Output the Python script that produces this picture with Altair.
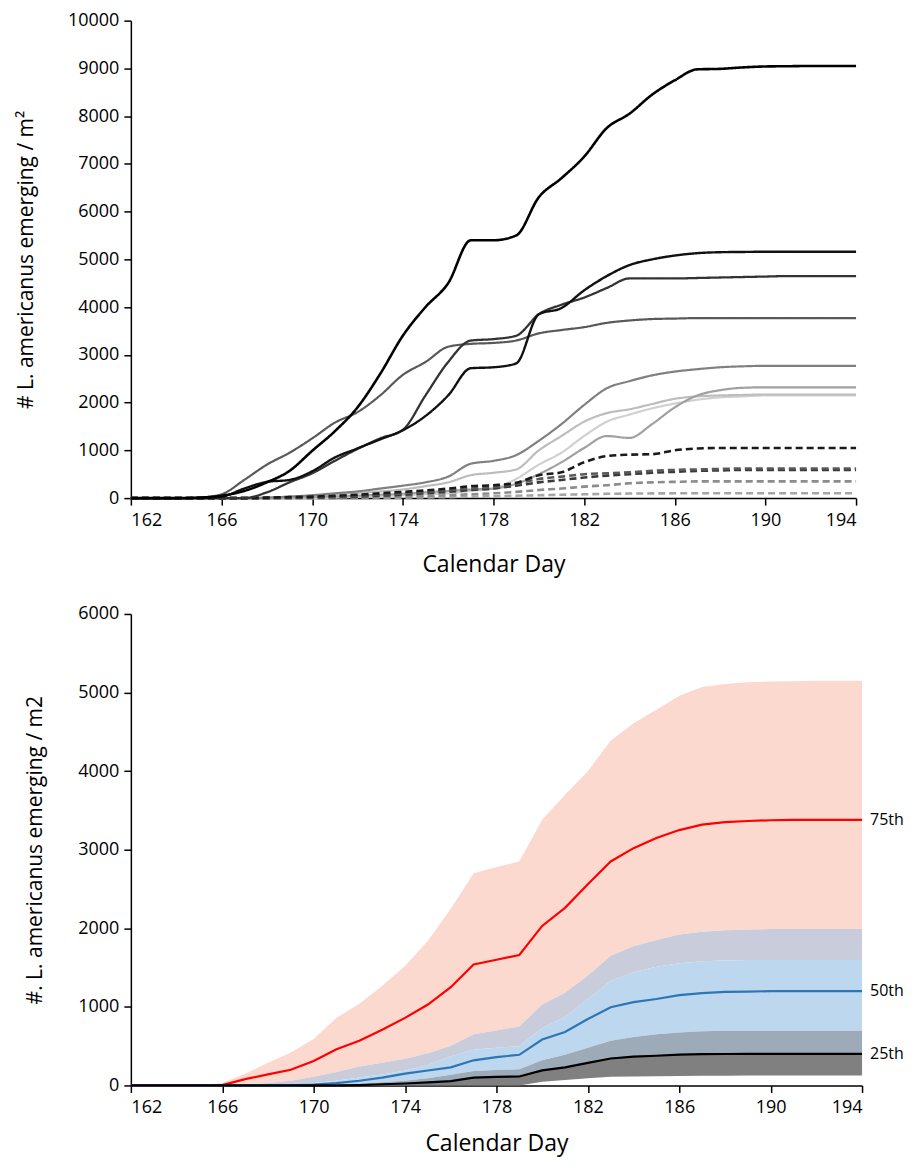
import altair as alt
import pandas as pd

# ---------------- data: top panel (individual scenarios) ----------------
days = list(range(162, 195))

top_a = [0, 0, 0, 10, 50, 150, 330, 570, 990, 1400, 1900, 2600, 3400, 4000, 4500, 5400, 5400, 5500,
         6300, 6700, 7150, 7750, 8050, 8450, 8750, 8980, 8990, 9020, 9040, 9045, 9050, 9050, 9050]
top_b = [0, 0, 0, 0, 30, 200, 340, 380, 560, 850, 1040, 1230, 1420, 1720, 2150, 2720, 2740, 2820,
         3850, 3980, 4350, 4650, 4880, 5000, 5080, 5130, 5150, 5155, 5160, 5160, 5160, 5160, 5160]
top_c = [0, 0, 0, 0, 0, 0, 120, 330, 520, 780, 1030, 1250, 1430, 2150, 2850, 3300, 3330, 3400,
         3850, 4050, 4200, 4400, 4600, 4600, 4600, 4610, 4620, 4630, 4640, 4650, 4650, 4650, 4650]
top_d = [0, 0, 0, 10, 80, 380, 700, 950, 1250, 1580, 1800, 2150, 2580, 2850, 3170, 3230, 3250, 3300,
         3450, 3520, 3580, 3670, 3720, 3750, 3760, 3770, 3770, 3770, 3770, 3770, 3770, 3770, 3770]
top_e = [0, 0, 0, 0, 0, 0, 10, 30, 60, 100, 140, 200, 260, 330, 450, 720, 780, 900,
         1200, 1550, 1950, 2300, 2450, 2570, 2650, 2700, 2740, 2760, 2770, 2770, 2770, 2770, 2770]
top_f = [0, 0, 0, 0, 0, 0, 0, 10, 20, 35, 50, 70, 90, 120, 150, 180, 200, 300,
         500, 750, 1050, 1300, 1260, 1550, 1900, 2150, 2260, 2310, 2320, 2320, 2320, 2320, 2320]
top_g = [0, 0, 0, 0, 0, 0, 10, 30, 50, 80, 110, 140, 180, 250, 330, 480, 530, 600,
         1000, 1300, 1600, 1780, 1860, 1970, 2080, 2130, 2150, 2160, 2170, 2170, 2170, 2170, 2170]
top_h = [0, 0, 0, 0, 0, 0, 0, 0, 0, 10, 30, 45, 60, 80, 100, 150, 200, 400,
         700, 950, 1300, 1600, 1750, 1880, 1980, 2060, 2110, 2130, 2150, 2150, 2150, 2150, 2150]
dash_a = [0, 0, 0, 0, 0, 0, 10, 20, 30, 50, 70, 100, 130, 160, 200, 250, 270, 320,
          480, 540, 750, 880, 910, 920, 1000, 1040, 1050, 1050, 1050, 1050, 1050, 1050, 1050]
dash_b = [0, 0, 0, 0, 0, 0, 5, 10, 20, 35, 50, 75, 100, 130, 170, 200, 230, 300,
          400, 450, 500, 520, 540, 570, 590, 600, 610, 620, 620, 620, 620, 620, 620]
dash_c = [0, 0, 0, 0, 0, 0, 0, 5, 10, 20, 30, 50, 70, 100, 130, 170, 200, 260,
          330, 380, 430, 470, 500, 530, 550, 570, 580, 590, 590, 590, 590, 590, 590]
dash_d = [0, 0, 0, 0, 0, 0, 0, 0, 0, 5, 10, 20, 30, 45, 60, 80, 100, 130,
          170, 200, 240, 270, 310, 330, 340, 350, 350, 350, 350, 350, 350, 350, 350]
dash_e = [0, 0, 0, 0, 0, 0, 0, 0, 0, 0, 0, 5, 10, 15, 20, 30, 40, 50,
          60, 70, 80, 90, 95, 98, 100, 100, 100, 100, 100, 100, 100, 100, 100]

top_series = [
    # name, values, colour, dashed, width
    ("h", top_h, "#d0d0d0", False, 2.2),
    ("g", top_g, "#bdbdbd", False, 2.2),
    ("f", top_f, "#a0a0a0", False, 2.2),
    ("e", top_e, "#808080", False, 2.2),
    ("dash_e", dash_e, "#a6a6a6", True, 2.6),
    ("dash_d", dash_d, "#8c8c8c", True, 2.6),
    ("dash_c", dash_c, "#3a3a3a", True, 2.6),
    ("dash_b", dash_b, "#595959", True, 2.6),
    ("dash_a", dash_a, "#1a1a1a", True, 2.6),
    ("d", top_d, "#595959", False, 2.2),
    ("c", top_c, "#333333", False, 2.3),
    ("b", top_b, "#111111", False, 2.4),
    ("a", top_a, "#000000", False, 2.6),
]

# ---------------- data: bottom panel (percentiles) ----------------
pink_top = [0, 0, 0, 0, 30, 150, 290, 420, 590, 860, 1040, 1270, 1520, 1840, 2250, 2700, 2780, 2850,
            3380, 3700, 4000, 4390, 4610, 4780, 4960, 5070, 5110, 5130, 5140, 5145, 5150, 5150, 5150]
lav_top = [0, 0, 0, 0, 0, 10, 30, 60, 110, 170, 240, 290, 340, 410, 505, 650, 700, 750,
           1030, 1180, 1400, 1650, 1770, 1850, 1920, 1955, 1975, 1985, 1990, 1990, 1990, 1990, 1990]
lb_top = [0, 0, 0, 0, 0, 0, 0, 10, 30, 60, 100, 140, 190, 260, 370, 455, 480, 500,
          730, 870, 1100, 1330, 1440, 1510, 1555, 1580, 1590, 1595, 1595, 1595, 1595, 1595, 1595]
bg_top = [0, 0, 0, 0, 0, 0, 0, 0, 0, 10, 20, 40, 60, 90, 137, 183, 195, 206,
          320, 390, 480, 570, 615, 650, 675, 690, 695, 695, 695, 695, 695, 695, 695]
gray_low = [0, 0, 0, 0, 0, 0, 0, 0, 0, 0, 0, 0, 0, 0, 0, 0, 0, 0,
            46, 70, 91, 110, 114, 118, 120, 122, 124, 125, 125, 125, 125, 125, 125]
p75 = [0, 0, 0, 0, 5, 80, 140, 200, 310, 460, 570, 710, 860, 1030, 1250, 1540, 1600, 1660,
       2030, 2260, 2560, 2850, 3020, 3150, 3250, 3320, 3350, 3365, 3375, 3380, 3380, 3380, 3380]
p50 = [0, 0, 0, 0, 0, 0, 0, 0, 10, 30, 60, 100, 150, 190, 230, 320, 360, 390,
       585, 680, 845, 995, 1060, 1100, 1150, 1175, 1190, 1195, 1200, 1200, 1200, 1200, 1200]
p25 = [0, 0, 0, 0, 0, 0, 0, 0, 0, 0, 5, 15, 25, 40, 55, 100, 108, 114,
       192, 229, 288, 343, 366, 378, 393, 398, 400, 402, 402, 402, 402, 402, 402]
pct_labels = ["75th", "50th", "25th"]

FONT = "Open Sans"
x_ticks = list(range(162, 195, 4))

# ---------------- top chart ----------------
top_layers = []
for name, vals, col, dashed, w in top_series:
    df = pd.DataFrame({"day": days, "v": vals})
    mk = alt.Chart(df).mark_line(
        color=col, strokeWidth=w, interpolate="monotone",
        strokeDash=[7, 4] if dashed else [1, 0],
    ).encode(
        x=alt.X("day:Q", scale=alt.Scale(domain=[162, 194], nice=False),
                axis=alt.Axis(values=x_ticks, title="Calendar Day", format="d",
                              titlePadding=24, titleFontSize=23)),
        y=alt.Y("v:Q", scale=alt.Scale(domain=[0, 10000], nice=False),
                axis=alt.Axis(values=list(range(0, 10001, 1000)), format="d",
                              title="# L. americanus emerging / m²", titlePadding=31)),
    )
    top_layers.append(mk)

top = alt.layer(*top_layers).properties(width=726, height=478)

# ---------------- bottom chart ----------------
bdf = pd.DataFrame({
    "day": days, "pink_top": pink_top, "lav_top": lav_top, "lb_top": lb_top,
    "bg_top": bg_top, "gray_low": gray_low, "p75": p75, "p50": p50, "p25": p25,
})
xb = alt.X("day:Q", scale=alt.Scale(domain=[162, 194], nice=False),
           axis=alt.Axis(values=x_ticks, title="Calendar Day", format="d",
                         titlePadding=16, titleFontSize=23))
yscale = alt.Scale(domain=[0, 6000], nice=False)
yaxis = alt.Axis(values=list(range(0, 6001, 1000)), format="d",
                 title="#. L. americanus emerging / m2", titlePadding=32)

base = alt.Chart(bdf)
bands = [
    ("lav_top", "pink_top", "#fcd9cf"),
    ("lb_top", "lav_top", "#c9cddb"),
    ("bg_top", "lb_top", "#bdd7ee"),
    ("p25", "bg_top", "#9dabb9"),
    ("gray_low", "p25", "#808080"),
]
blayers = []
for lo, hi, col in bands:
    blayers.append(base.mark_area(color=col, opacity=1).encode(
        x=xb, y=alt.Y(f"{lo}:Q", scale=yscale, axis=yaxis), y2=f"{hi}:Q"))
for fld, col in [("p75", "#ff0000"), ("p50", "#2e75b6"), ("p25", "#000000")]:
    blayers.append(base.mark_line(color=col, strokeWidth=2.2).encode(
        x=xb, y=alt.Y(f"{fld}:Q", scale=yscale, axis=yaxis)))

lab_df = pd.DataFrame({"day": [194, 194, 194], "v": [p75[-1], p50[-1], p25[-1]],
                       "t": pct_labels})
blayers.append(alt.Chart(lab_df).mark_text(
    align="left", baseline="middle", dx=8, fontSize=16, font=FONT, color="black"
).encode(x=alt.X("day:Q", scale=alt.Scale(domain=[162, 194], nice=False)),
         y=alt.Y("v:Q", scale=yscale), text="t:N"))

bottom = alt.layer(*blayers).properties(width=732, height=472)

chart = alt.vconcat(top, bottom, spacing=29).properties(
    padding={"left": 7, "top": 3, "right": 5, "bottom": 5}
).configure_view(stroke=None).configure_axis(
    grid=False, domainColor="black", domainWidth=1.5, tickColor="black", tickWidth=1.5,
    tickSize=7, labelFont=FONT, titleFont=FONT, labelFontSize=18, titleFontSize=21,
    labelColor="black", titleColor="black", titleFontWeight="normal", labelPadding=5,
).configure_axisX(labelPadding=6)

chart.save("out.html", embed_options={"renderer": "svg", "actions": False})
